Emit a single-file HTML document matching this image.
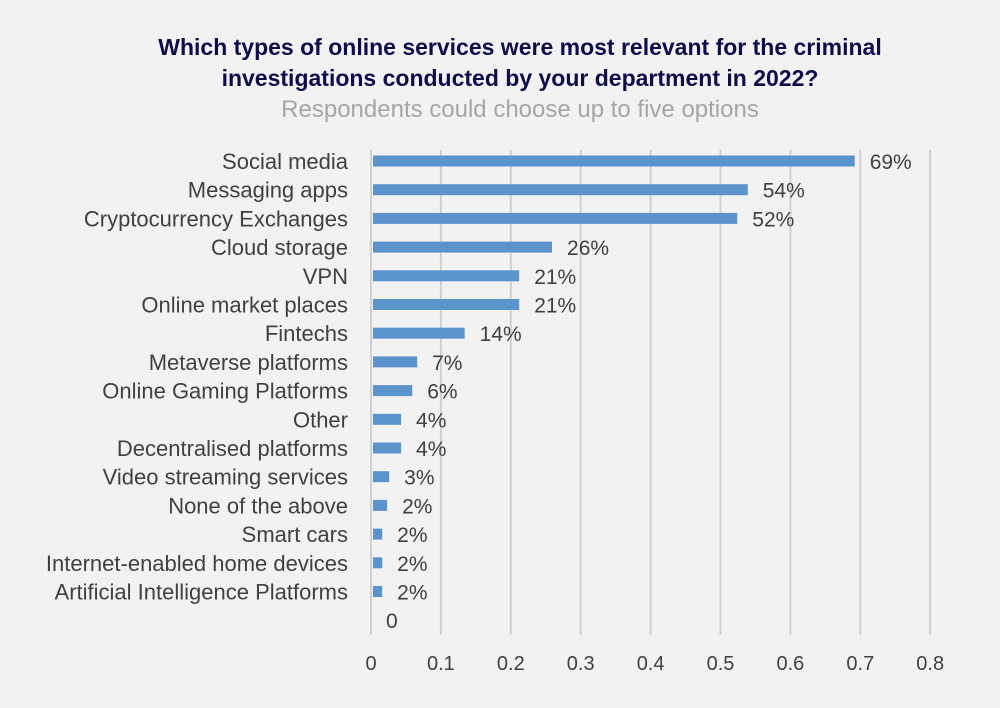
<!DOCTYPE html>
<html><head><meta charset="utf-8"><style>
body{margin:0;background:#f2f2f2;font-family:"Liberation Sans",Arial,sans-serif}
#wrap{position:relative;width:1000px;height:708px;background:#f2f2f2;overflow:hidden}
.t{position:absolute;left:0;width:1040px;text-align:center;font-weight:bold;color:#0d0d4a;font-size:23px;line-height:30px}
</style></head><body>
<div id="wrap">
<div class="t" style="top:32px">Which types of online services were most relevant for the criminal</div>
<div class="t" style="top:63px">investigations conducted by your department in 2022?</div>
<div class="t" style="top:95px;font-weight:normal;color:#a6a6a6;font-size:24px">Respondents could choose up to five options</div>
<svg id="svg" width="1000" height="708" style="position:absolute;left:0;top:0"></svg>
</div>
<script>
const categories=["Social media","Messaging apps","Cryptocurrency Exchanges","Cloud storage","VPN","Online market places","Fintechs","Metaverse platforms","Online Gaming Platforms","Other","Decentralised platforms","Video streaming services","None of the above","Smart cars","Internet-enabled home devices","Artificial Intelligence Platforms",""];
const values=[0.692,0.539,0.524,0.259,0.212,0.212,0.134,0.066,0.059,0.043,0.043,0.026,0.023,0.016,0.016,0.016,0];
const valueLabels=["69%","54%","52%","26%","21%","21%","14%","7%","6%","4%","4%","3%","2%","2%","2%","2%","0"];
const ticks=[0,0.1,0.2,0.3,0.4,0.5,0.6,0.7,0.8];
const tickLabels=["0","0.1","0.2","0.3","0.4","0.5","0.6","0.7","0.8"];
const NS="http://www.w3.org/2000/svg";
const svg=document.getElementById('svg');
const x=v=>371+v*699;
const y=i=>161+i*28.7;
function mk(t,a){const e=document.createElementNS(NS,t);for(const k in a)e.setAttribute(k,a[k]);svg.appendChild(e);return e;}
ticks.forEach((t,i)=>{
 const g=mk('line',{x1:x(t),x2:x(t),y1:150,y2:635,stroke:'#d0d0d0','stroke-width':2});
 
 
 const l=mk('text',{x:x(t),y:670,'text-anchor':'middle','font-size':20,fill:'#404040','font-family':'Liberation Sans, sans-serif'});
 l.textContent=tickLabels[i];
 
 
});
categories.forEach((c,i)=>{
 const cy=y(i);
 if(c){const t=mk('text',{x:348,y:cy+8,'text-anchor':'end','font-size':22,fill:'#404040','font-family':'Liberation Sans, sans-serif'});
 t.textContent=c;
 
 }
 if(values[i]>0){const b=mk('rect',{x:x(0)+2,y:cy-5.5,width:Math.max(0,x(values[i])-x(0)-2),height:11,fill:'#5b93cc'});
 
 }
 const v=mk('text',{x:x(values[i])+15,y:cy+8,'font-size':21,fill:'#404040','font-family':'Liberation Sans, sans-serif'});
 v.textContent=valueLabels[i];
 
 
});
</script>
</body></html>
